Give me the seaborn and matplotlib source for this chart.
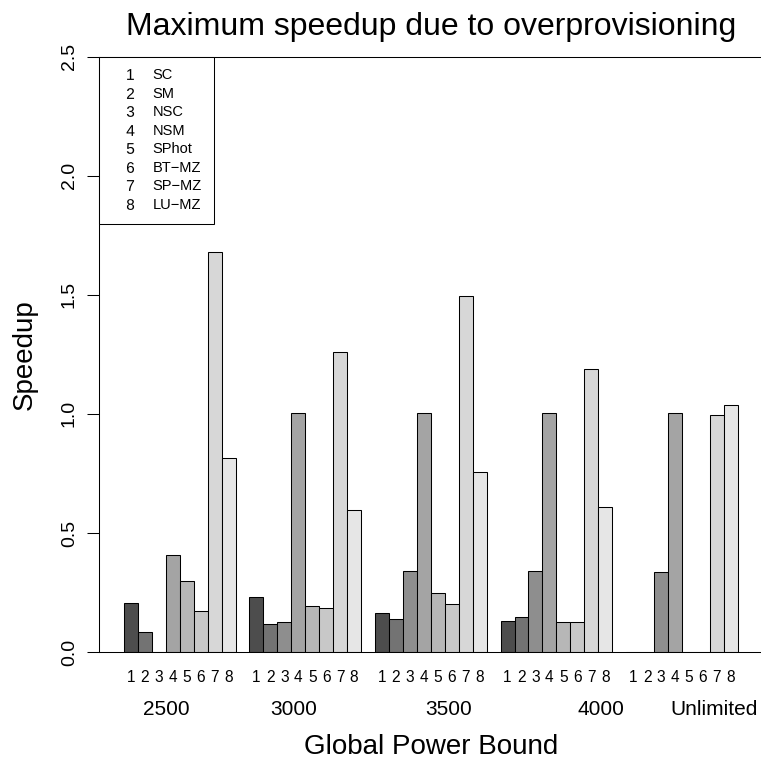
import matplotlib
matplotlib.use("Agg")
import numpy as np
import pandas as pd
import matplotlib.pyplot as plt
import seaborn as sns
from matplotlib.lines import Line2D

# ---------------- data ----------------
power_bounds = ["2500", "3000", "3500", "4000", "Unlimited"]
benchmarks = ["SC", "SM", "NSC", "NSM", "SPhot", "BT\u2212MZ", "SP\u2212MZ", "LU\u2212MZ"]
bench_codes = ["1", "2", "3", "4", "5", "6", "7", "8"]

speedup_2500 = [0.204, 0.083, 0.0, 0.409, 0.300, 0.171, 1.678, 0.815]
speedup_3000 = [0.230, 0.119, 0.127, 1.005, 0.195, 0.186, 1.259, 0.597]
speedup_3500 = [0.163, 0.140, 0.339, 1.005, 0.247, 0.203, 1.497, 0.755]
speedup_4000 = [0.129, 0.146, 0.339, 1.005, 0.125, 0.127, 1.188, 0.609]
speedup_unlimited = [0.0, 0.0, 0.337, 1.005, 0.0, 0.0, 0.997, 1.037]
speedups = [speedup_2500, speedup_3000, speedup_3500, speedup_4000, speedup_unlimited]

y_ticks = [0.0, 0.5, 1.0, 1.5, 2.0, 2.5]

# ---------------- styles / layout ----------------
grey_palette = ["#4D4D4D", "#737373", "#8E8E8E", "#A4A4A4",
                "#B7B7B7", "#C8C8C8", "#D7D7D7", "#E6E6E6"]
group_label_x = [4.05, 13.19, 24.30, 35.16, 43.3]

sns.set_style("ticks")
plt.rcParams["font.family"] = ["Liberation Sans", "DejaVu Sans"]
plt.rcParams["mathtext.fontset"] = "custom"
plt.rcParams["mathtext.rm"] = "Liberation Sans"
plt.rcParams["mathtext.it"] = "Liberation Sans"
plt.rcParams["mathtext.bf"] = "Liberation Sans"
for key in ["text.color", "axes.labelcolor", "xtick.color", "ytick.color", "axes.edgecolor"]:
    plt.rcParams[key] = "black"

rows = []
for gi, (g, vals) in enumerate(zip(power_bounds, speedups)):
    for bi, (b, v) in enumerate(zip(benchmarks, vals)):
        rows.append({"bound": g, "bench": b, "code": bench_codes[bi],
                     "pos": 1.5 + 9 * gi + bi, "speedup": v})
df = pd.DataFrame(rows)

fig = plt.figure(figsize=(7.61, 7.60), dpi=100)
ax = fig.add_axes([0.1306, 0.1421, 0.8711, 0.7833])

sns.barplot(data=df, x="pos", y="speedup", hue="bench", hue_order=benchmarks,
            palette=grey_palette, native_scale=True, dodge=False, width=1.0,
            errorbar=None, saturation=1, edgecolor="black", linewidth=0.75,
            legend=False, ax=ax)

ax.set_xlim(-0.76, 46.76)
ax.set_ylim(0, 2.5)

for s in ax.spines.values():
    s.set_visible(True)
    s.set_color("black")
    s.set_linewidth(0.75)

ax.set_yticks(y_ticks)
ax.set_yticklabels([f"{t:.1f}" for t in y_ticks], rotation=90, va="center", fontsize=14)
ax.tick_params(axis="y", length=8.35, width=0.75, pad=7.2, color="black",
               labelcolor="black", direction="out")

ax.set_xticks(df["pos"].tolist())
ax.set_xticklabels(df["code"].tolist(), fontsize=11.2)
ax.tick_params(axis="x", length=0, pad=13.0, labelcolor="black")

for x, g in zip(group_label_x, power_bounds):
    ax.annotate(g, xy=(x, 0), xycoords=("data", "axes fraction"),
                xytext=(0, -57.7 / 1.389), textcoords="offset points",
                ha="center", va="center", fontsize=15, color="black")

ax.set_xlabel("Global Power Bound", fontsize=20, color="black")
ax.xaxis.set_label_coords(0.5, -0.1596)
ax.xaxis.label.set_va("center")
ax.set_ylabel("Speedup", fontsize=20, color="black")
ax.yaxis.set_label_coords(-0.1122, 0.5)
ax.yaxis.label.set_va("center")

ax.set_title("Maximum speedup due to overprovisioning", fontsize=23,
             y=1.0365, pad=0, va="baseline", color="black")

handles = [Line2D([], [], linestyle="None", marker=f"${c}$", color="black",
                  markeredgewidth=0, markersize=7.8) for c in bench_codes]
leg = ax.legend(handles, benchmarks, loc="upper left", bbox_to_anchor=(0, 1),
                borderaxespad=0, frameon=True, fancybox=False, edgecolor="black",
                framealpha=1, fontsize=10.5, borderpad=0.8, labelspacing=0.31,
                handlelength=2.65, handletextpad=0.2, handleheight=0.7)
leg.get_frame().set_linewidth(0.75)
for t in leg.get_texts():
    t.set_color("black")

fig.savefig("out.png", dpi=100)
